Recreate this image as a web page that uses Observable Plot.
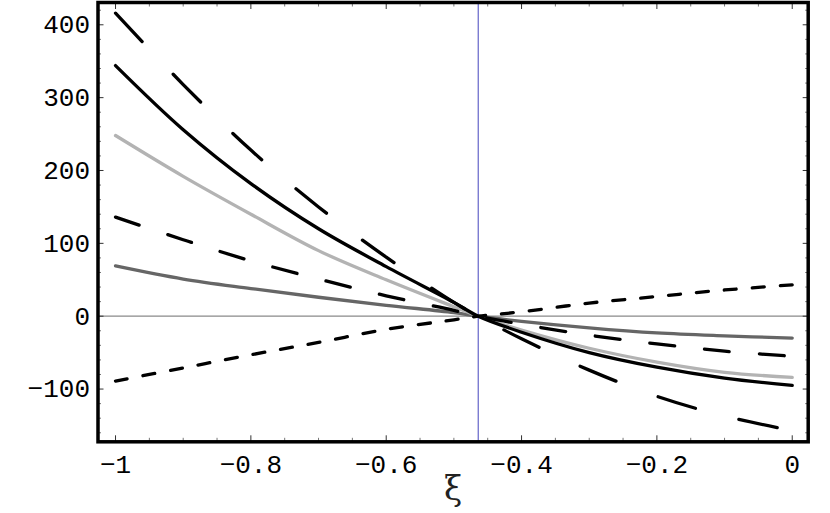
<!DOCTYPE html>
<html>
<head>
<meta charset="utf-8">
<script src="https://cdn.jsdelivr.net/npm/d3@7"></script>
<script src="https://cdn.jsdelivr.net/npm/@observablehq/plot@0.6"></script>
<style>
  html, body { margin: 0; padding: 0; background: #fff; }
  #chart svg { display: block; }
</style>
</head>
<body>
<div id="chart"></div>
<script>
// ---- data ----
const xi = [-1, -0.9, -0.8, -0.7, -0.6, -0.5, -0.464, -0.4, -0.3, -0.2, -0.1, 0];
const longDash   = [416, 318, 228, 150, 81, 19, 0, -31, -74, -110, -137, -157];
const blackSolid = [344, 256, 182, 120, 68, 19, 0, -22, -50, -70, -85, -95];
const lightGray  = [248, 192, 140, 90, 50, 13, 0, -19, -44, -63, -77, -84];
const mediumDash = [136, 105, 76, 51, 28, 8, 0, -11, -26, -38, -48, -55];
const darkGray   = [69, 51, 38, 26, 15, 5, 0, -7, -16, -23, -27, -30];
const shortDash  = [-89, -71, -53, -36, -18, -5, 0, 6, 18, 27, 36, 43];
const crossing = [-0.464];

const xMajor = [-1, -0.8, -0.6, -0.4, -0.2, 0];
const xMajorLabels = ["−1", "−0.8", "−0.6", "−0.4", "−0.2", "0"];
const xMinor = d3.range(-1, 0.0001, 0.05).map(v => +v.toFixed(2)).filter(v => !xMajor.some(m => Math.abs(m - v) < 1e-9));
const yMajor = [-100, 0, 100, 200, 300, 400];
const yMajorLabels = ["−100", "0", "100", "200", "300", "400"];
const yMinor = d3.range(-160, 421, 20).filter(v => v % 100 !== 0);
const xTitle = ["ξ"];

// ---- styles (kept apart from data) ----
const series = [
  {values: darkGray,   stroke: "#666666", dash: null,    w: 3.3},
  {values: lightGray,  stroke: "#b3b3b3", dash: null,    w: 3.3},
  {values: mediumDash, stroke: "#000000", dash: "25,30", w: 3.3},
  {values: blackSolid, stroke: "#000000", dash: null,    w: 3.3},
  {values: longDash,   stroke: "#000000", dash: "39,45", w: 3.3},
  {values: shortDash,  stroke: "#000000", dash: "12,16", w: 3.3}
];

const mono = "'Liberation Mono', 'DejaVu Sans Mono', monospace";
const xFmt = d => xMajorLabels[xMajor.indexOf(d)];
const yFmt = d => yMajorLabels[yMajor.indexOf(d)];

const lineMarks = series.map(s => Plot.line(
  xi.map((x, i) => ({x, y: s.values[i]})),
  {x: "x", y: "y", stroke: s.stroke, strokeWidth: s.w,
   strokeDasharray: s.dash, strokeLinecap: "round", strokeLinejoin: "round",
   curve: "catmull-rom"}
));

const chart = Plot.plot({
  width: 830,
  height: 513,
  marginLeft: 97.5,
  marginRight: 22.3,
  marginTop: 2,
  marginBottom: 71.7,
  style: {background: "#fff"},
  x: {domain: [-1.0259, 0.0236], axis: null},
  y: {domain: [-172.4, 430.6], axis: null},
  marks: [
    Plot.ruleY([0], {stroke: "#8a8a8a", strokeWidth: 1.2}),
    Plot.ruleX(crossing, {stroke: "#6464c8", strokeWidth: 1.2}),
    ...lineMarks,
    // inward ticks: bottom / top
    Plot.axisX({anchor: "bottom", ticks: xMajor, tickSize: 6, dy: -6, tickFormat: () => "", label: null, stroke: "#333"}),
    Plot.axisX({anchor: "bottom", ticks: xMinor, tickSize: 3.5, dy: -3.5, tickFormat: () => "", label: null, stroke: "#777"}),
    Plot.axisX({anchor: "top", ticks: xMajor, tickSize: 6, dy: 6, tickFormat: () => "", label: null, stroke: "#333"}),
    Plot.axisX({anchor: "top", ticks: xMinor, tickSize: 3.5, dy: 3.5, tickFormat: () => "", label: null, stroke: "#777"}),
    // inward ticks: left / right
    Plot.axisY({anchor: "left", ticks: yMajor, tickSize: 6, dx: 6, tickFormat: () => "", label: null, stroke: "#333"}),
    Plot.axisY({anchor: "left", ticks: yMinor, tickSize: 3.5, dx: 3.5, tickFormat: () => "", label: null, stroke: "#777"}),
    Plot.axisY({anchor: "right", ticks: yMajor, tickSize: 6, dx: -6, tickFormat: () => "", label: null, stroke: "#333"}),
    Plot.axisY({anchor: "right", ticks: yMinor, tickSize: 3.5, dx: -3.5, tickFormat: () => "", label: null, stroke: "#777"}),
    // tick labels
    Plot.axisX({anchor: "bottom", ticks: xMajor, tickSize: 0, tickPadding: 13, tickFormat: xFmt, label: null,
                fontSize: 26, fontFamily: mono, fill: "#000"}),
    Plot.axisY({anchor: "left", ticks: yMajor, tickSize: 0, tickPadding: 8, tickFormat: yFmt, label: null,
                fontSize: 26, fontFamily: mono, fill: "#000"}),
    // axis title
    Plot.text(xTitle, {frameAnchor: "bottom", lineAnchor: "middle", dy: 48, fontSize: 33,
                      fontFamily: "'DejaVu Serif', 'Liberation Serif', serif", fontWeight: "normal", fill: "#222"}),
    Plot.frame({stroke: "#000", strokeWidth: 3.5})
  ]
});
document.getElementById("chart").appendChild(chart);
</script>
</body>
</html>
